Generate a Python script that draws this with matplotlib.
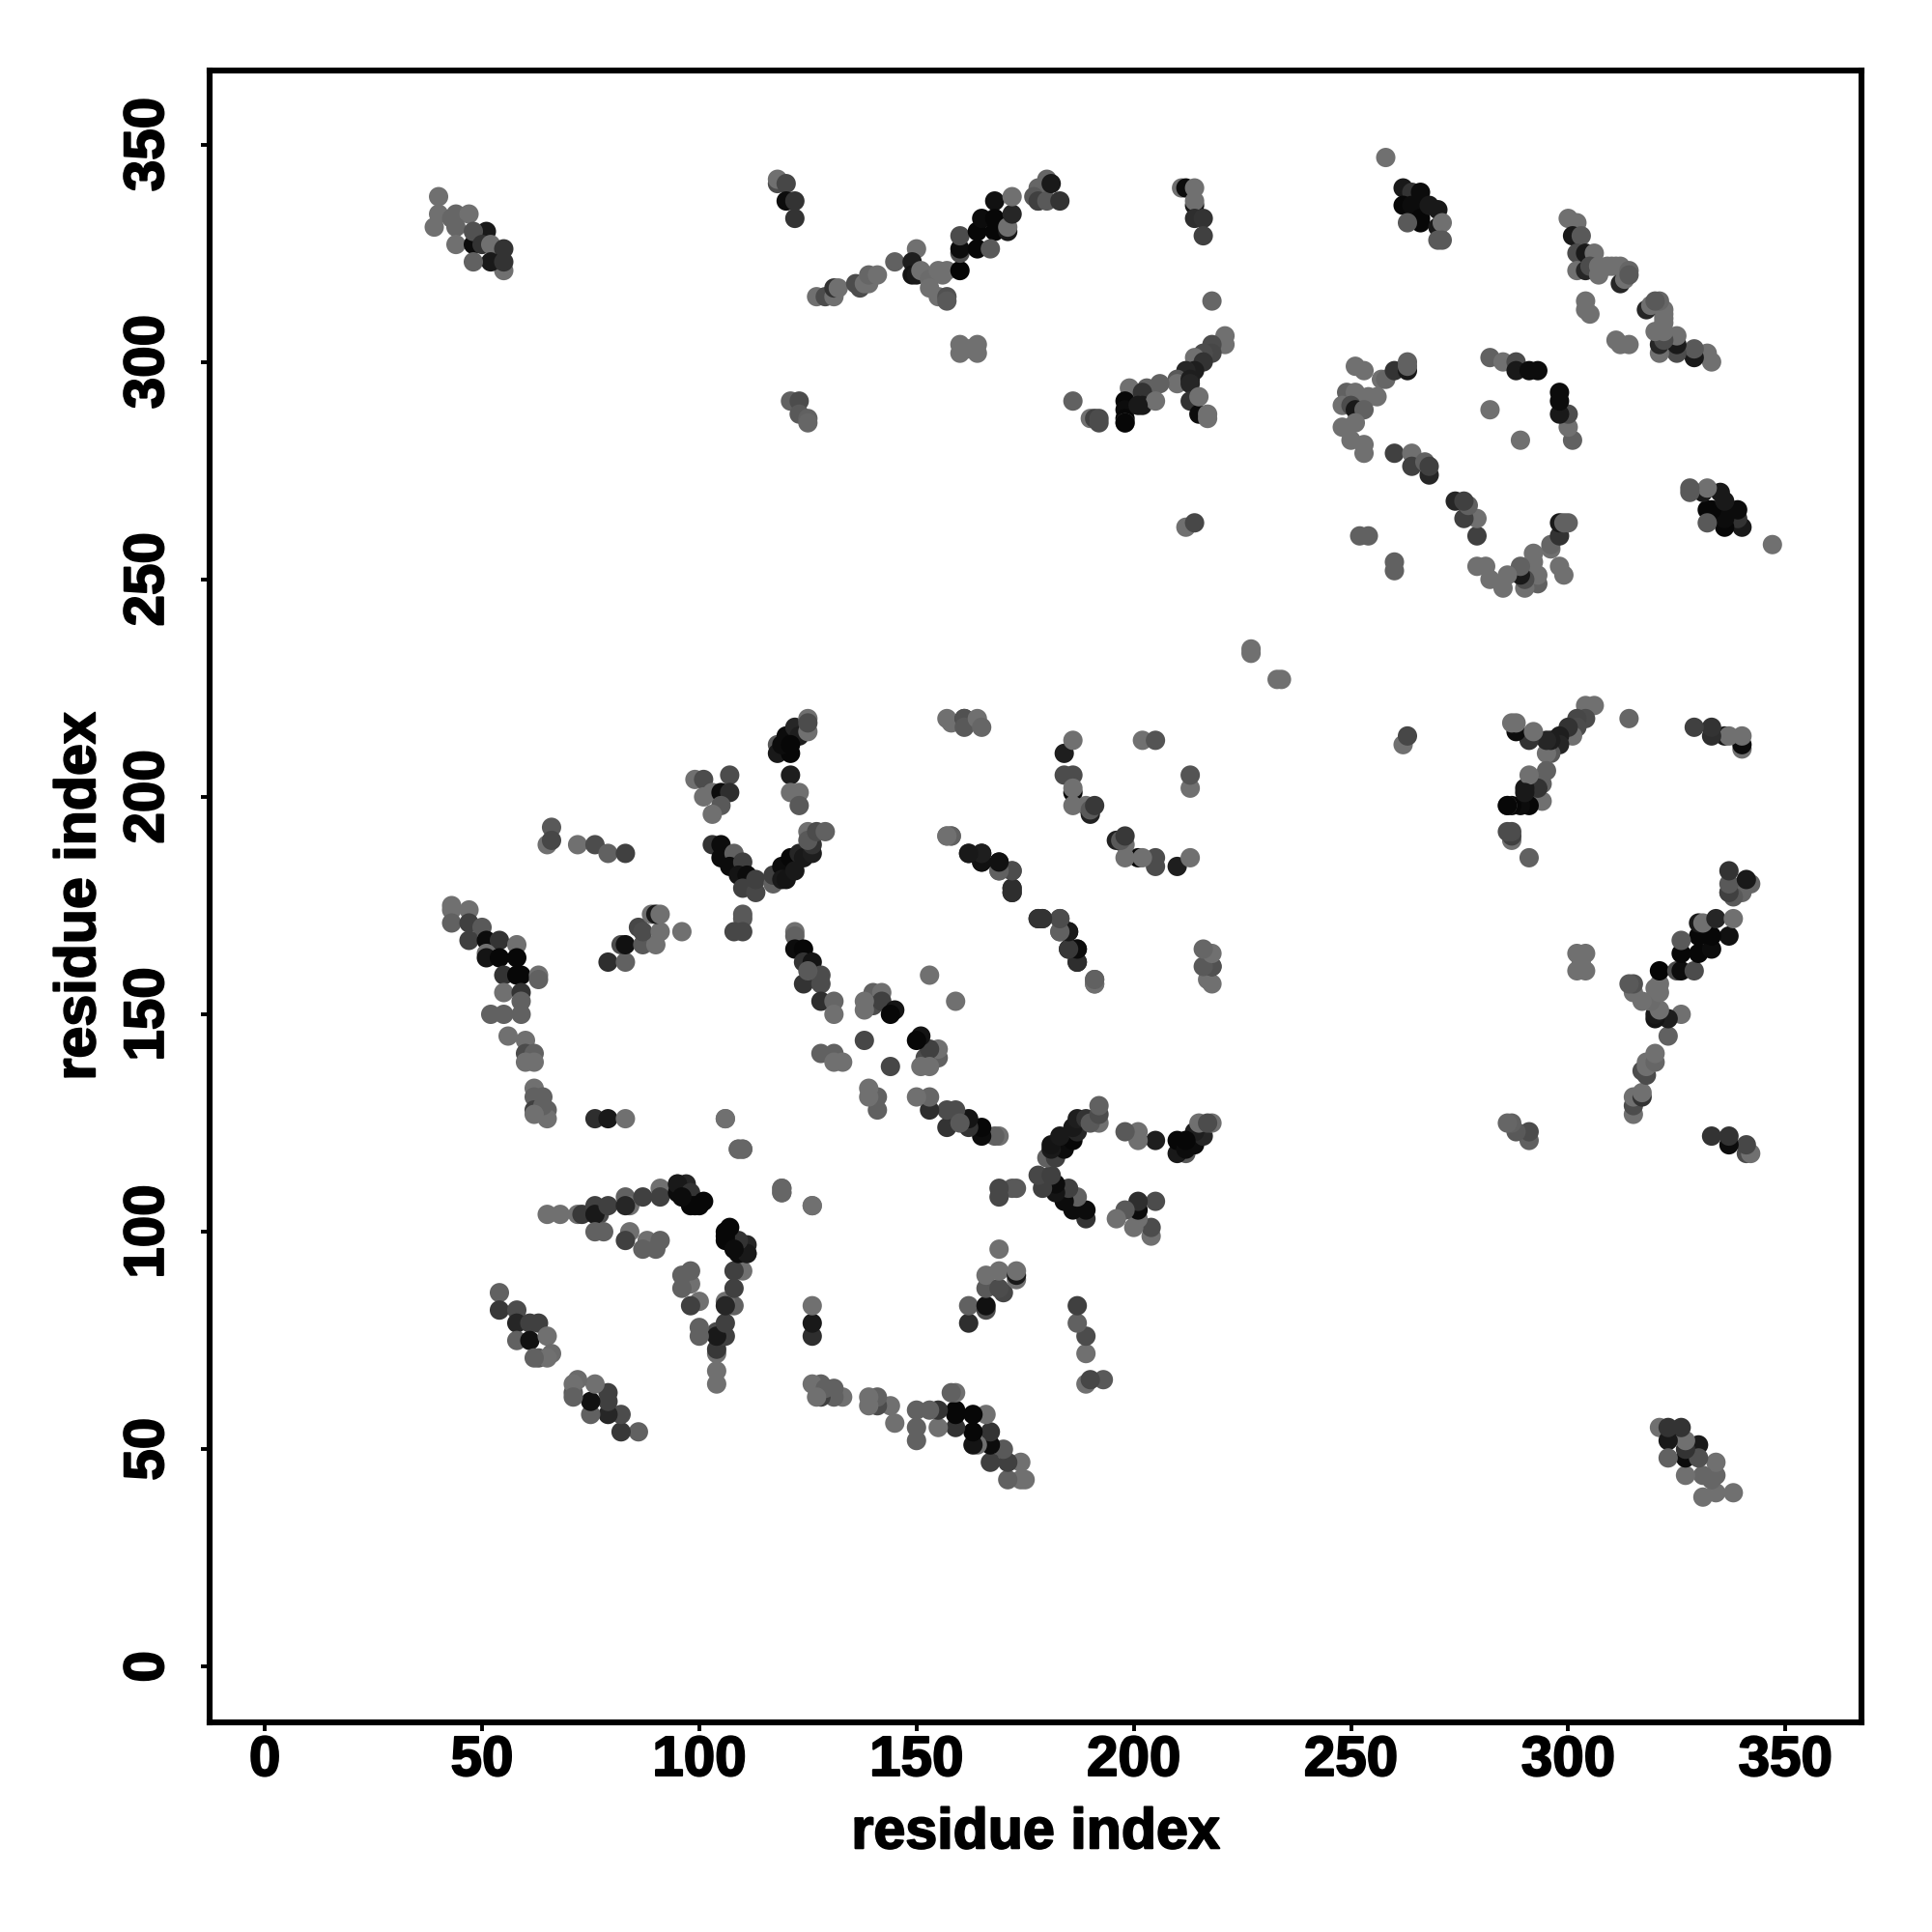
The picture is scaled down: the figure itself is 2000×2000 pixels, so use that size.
import numpy as np
import matplotlib
matplotlib.use('Agg')
import matplotlib.pyplot as plt
import matplotlib.patheffects as pe

# contacts above the diagonal; the map is symmetric
res_i = [
    40, 40, 39, 44, 43, 47, 44, 44, 48, 51, 48, 50, 52, 55, 55, 52, 48, 55,
    118, 118, 120, 120, 122, 122,
    127, 129, 131, 131, 132, 136, 137, 138, 139, 139, 141,
    121, 123, 123, 125, 125,
    145, 150, 149, 149, 150, 151, 153, 153, 155, 155, 156, 157, 157, 157, 160,
    160, 160, 160, 164, 164, 165, 168, 168, 168, 167, 171, 171, 172, 172,
    178, 180, 178, 177, 178, 180, 181, 183,
    211, 212, 214, 214, 214, 214, 216, 216, 218,
    221, 221, 218, 218, 216, 214, 216, 214, 212, 210, 210, 213, 213, 213, 215, 215, 217, 217,
    199, 206, 203, 202, 202, 205, 198, 198, 198, 198, 198, 201,
    186, 190, 191, 192, 192, 160, 164, 160, 164, 162,
    212, 214, 227, 227,
    262, 264, 266, 262, 264, 266, 268, 270, 266, 263, 270, 271, 270, 271,
    300, 302, 301, 303, 302, 304, 306, 302, 304, 305, 307, 307, 309, 310, 311, 312, 312, 313, 314, 314,
    304, 304, 305,
    282, 285, 288, 288, 291, 293, 282,
    251, 253, 257, 258, 260, 263, 263, 263,
    249, 251, 254, 256, 248, 250, 251, 253, 248, 251, 250, 253, 253,
    260, 264, 264, 268, 267, 268, 252, 254, 258,
    43, 43, 47, 43, 47, 50, 47, 51, 54, 58, 51, 51, 54, 58, 55, 59, 58, 63, 63,
    55, 59, 59, 52, 55, 59, 56, 60, 60, 62, 60, 62,
    62, 62, 64, 62, 65, 65, 64, 62, 76, 79, 83, 106, 109, 110,
    65, 68, 72, 73, 76, 77, 76, 79, 83, 84, 83, 87, 91, 91, 95, 95, 97, 95, 98, 98, 99, 101, 100,
    76, 78, 84, 83, 88, 87, 90, 91, 96,
    119, 119, 126,
    54, 54, 58, 58, 61, 63, 58, 61, 65, 63, 66, 65, 62,
    66, 65, 66, 72, 76, 79, 83,
    79, 83, 82, 83, 87, 90, 86, 87, 91, 89, 90, 91, 96,
    99, 101, 107, 101, 103, 105, 107, 105, 103,
    121, 121, 123, 123,
    118, 118, 121, 120, 122, 123, 125, 125, 125, 119, 121,
    103, 105, 105, 108, 107, 110, 109, 111, 110, 113, 113, 117, 117, 119, 119, 120, 121, 122, 123, 124, 126, 126, 125, 125, 127, 129,
    110, 110, 108, 110,
    122, 122, 122, 124, 124, 126, 124, 128, 128, 125, 128, 131, 131,
    157, 158, 161, 161, 161, 164, 165,
    184, 186, 184, 186, 186, 186, 186, 189, 190, 190, 191,
    202, 205,
    157, 158, 162, 165, 165, 169, 169, 172, 172, 172,
    178, 179, 183, 183, 185, 185, 187, 187, 191, 191,
    153, 140, 140, 142, 142, 145, 144, 138, 138,
    138, 128, 131, 131, 133,
]
res_j = [
    338, 334, 331, 334, 333, 334, 331, 327, 327, 330, 330, 327, 327, 321, 326, 323, 323, 323,
    341, 342, 341, 337, 337, 333,
    315, 315, 315, 317, 317, 318, 317, 318, 318, 320, 320,
    291, 291, 288, 287, 286,
    323, 326, 323, 320, 320, 321, 319, 317, 321, 315, 320, 321, 315, 314, 321,
    325, 326, 329, 326, 330, 333, 337, 333, 330, 326, 330, 331, 334, 338,
    340, 342, 337, 338, 337, 337, 341, 337,
    340, 340, 340, 336, 337, 333, 333, 329, 314,
    306, 304, 304, 302, 302, 301, 300, 298, 298, 296, 295, 296, 295, 291, 288, 292, 288, 287,
    294, 295, 294, 293, 290, 291, 291, 289, 287, 286, 286, 290,
    291, 287, 287, 287, 286, 304, 304, 302, 302, 303,
    262, 263, 234, 233,
    340, 339, 339, 336, 336, 333, 336, 335, 332, 332, 331, 332, 328, 328,
    333, 332, 329, 329, 325, 325, 325, 321, 321, 322, 322, 320, 322, 322, 322, 322, 318, 319, 321, 320,
    314, 312, 311,
    301, 300, 300, 298, 298, 298, 289,
    299, 298, 296, 296, 298, 298, 299, 300,
    293, 293, 292, 292, 290, 290, 289, 289, 285, 286, 282, 281, 279,
    279, 279, 276, 274, 277, 276, 260, 260, 347,
    175, 174, 174, 171, 171, 170, 167, 167, 167, 166, 164, 163, 163, 163, 159, 159, 159, 159, 158,
    155, 155, 153, 150, 150, 150, 145, 144, 141, 141, 139, 139,
    133, 131, 131, 128, 128, 126, 129, 127, 126, 126, 126, 126, 119, 119,
    104, 104, 104, 104, 106, 104, 104, 106, 108, 106, 106, 108, 110, 108, 111, 109, 111, 111, 109, 106, 106, 107, 106,
    100, 100, 100, 98, 98, 96, 96, 98, 108,
    110, 109, 106,
    86, 82, 82, 79, 79, 79, 75, 75, 76, 71, 72, 71, 71,
    193, 189, 190, 189, 189, 187, 187,
    162, 162, 166, 166, 166, 166, 170, 169, 169, 173, 173, 173, 169,
    204, 204, 205, 200, 201, 201, 201, 198, 196,
    205, 201, 201, 198,
    212, 210, 210, 214, 216, 214, 215, 218, 217, 212, 212,
    189, 189, 186, 187, 184, 185, 182, 182, 179, 178, 181, 180, 182, 184, 181, 181, 186, 183, 187, 186, 187, 189, 192, 190, 192, 192,
    173, 172, 169, 169,
    169, 168, 165, 165, 162, 162, 157, 159, 157, 160, 153, 153, 150,
    218, 217, 218, 218, 216, 218, 216,
    210, 213, 205, 205, 201, 202, 198, 198, 196, 197, 198,
    213, 213,
    191, 191, 187, 187, 185, 185, 183, 183, 179, 178,
    172, 172, 172, 169, 169, 165, 165, 162, 158, 157,
    159, 155, 152, 155, 153, 151, 150, 153, 151,
    144, 141, 141, 139, 139,
]
contact_shade = [
    .44, .44, .44, .4, .4, .44, .4, .44, .05, .1, .32, .2, .44, .44, .2, .1, .38, .2,
    .3, .44, .28, .05, .2, .2,
    .44, .3, .44, .2, .44, .3, .3, .44, .44, .4, .44,
    .38, .3, .35, .38, .4,
    .38, .44, .12, .08, .1, .44, .42, .44, .44, .44, .44, .44, .32, .35, .02,
    .3, .05, .3, .03, .03, .05, .07, .03, .03, .35, .1, .44, .15, .44,
    .4, .4, .38, .35, .25, .35, .1, .2,
    .44, .05, .44, .1, .44, .18, .2, .25, .4,
    .44, .44, .3, .28, .3, .44, .2, .12, .15, .35, .44, .12, .15, .2, .05, .44, .44, .44,
    .44, .38, .38, .2, .1, .44, .03, .05, .03, .4, .03, .1,
    .38, .44, .25, .3, .3, .44, .44, .44, .44, .44,
    .44, .28, .44, .44,
    .1, .2, .05, .03, .05, .03, .1, .1, .03, .35, .1, .44, .35, .35,
    .44, .44, .1, .35, .3, .1, .44, .44, .15, .3, .44, .44, .44, .44, .44, .44, .15, .44, .4, .35,
    .44, .44, .44,
    .38, .44, .3, .1, .05, .05, .44,
    .44, .44, .44, .4, .2, .1, .38, .38,
    .38, .44, .44, .44, .44, .3, .1, .38, .44, .44, .44, .44, .44,
    .25, .44, .25, .15, .38, .25, .38, .38, .44,
    .44, .44, .44, .38, .25, .35, .25, .05, .2, .44, .44, .08, .03, .03, .2, .03, .03, .44, .38,
    .44, .2, .38, .38, .38, .38, .44, .44, .3, .38, .44, .44,
    .44, .38, .38, .25, .38, .44, .38, .44, .18, .1, .44, .44, .4, .4,
    .44, .44, .44, .22, .25, .3, .1, .25, .38, .44, .15, .25, .44, .25, .35, .05, .15, .1, .2, .03, .03, .03, .03,
    .38, .38, .44, .25, .44, .38, .38, .38, .05,
    .4, .4, .44,
    .38, .22, .3, .15, .25, .25, .38, .07, .44, .35, .42, .44, .38,
    .35, .44, .28, .44, .3, .38, .25,
    .18, .38, .3, .07, .35, .44, .28, .3, .44, .44, .1, .44, .44,
    .44, .3, .3, .44, .44, .05, .18, .35, .44,
    .12, .44, .44, .35,
    .35, .1, .03, .05, .15, .12, .44, .44, .3, .05, .03,
    .2, .05, .05, .38, .05, .25, .08, .05, .25, .28, .25, .38, .25, .05, .1, .08, .03, .1, .15, .1, .12, .2, .44, .35, .3, .38,
    .35, .35, .28, .28,
    .44, .38, .05, .03, .2, .08, .2, .3, .3, .35, .18, .4, .44,
    .44, .44, .2, .32, .35, .44, .4,
    .12, .44, .3, .3, .03, .44, .44, .44, .13, .35, .22,
    .44, .33,
    .44, .38, .18, .05, .22, .1, .38, .3, .2, .2,
    .18, .18, .3, .38, .07, .07, .12, .1, .38, .44,
    .44, .38, .3, .44, .25, .08, .03, .44, .44,
    .28, .38, .38, .44, .44,
]

tick_vals = [0, 50, 100, 150, 200, 250, 300, 350]

plt.rcParams['font.family'] = ['Liberation Sans', 'DejaVu Sans']
plt.rcParams['font.weight'] = 'bold'

i = np.array(res_i)
j = np.array(res_j)
shade = np.array(contact_shade)

fig = plt.figure(figsize=(10, 10), dpi=200)
ax = fig.add_axes([217 / 2000, 1 - 1783 / 2000, 1710 / 2000, 1710 / 2000])
ax.scatter(np.r_[i, j], np.r_[j, i], c=np.r_[shade, shade], cmap='gray', vmin=0, vmax=1,
           s=52, linewidths=0)

ax.set_xlim(-12.7, 367.5)
ax.set_ylim(-12.8, 367)
ax.set_xticks(tick_vals)
ax.set_yticks(tick_vals)
ax.tick_params(axis='both', length=3.3, width=1.4, labelsize=21)
ax.tick_params(axis='x', pad=1.4)
ax.tick_params(axis='y', pad=9.7, labelrotation=90)
for lab in ax.get_yticklabels():
    lab.set_va('center')
for sp in ax.spines.values():
    sp.set_linewidth(2.2)
ax.set_xlabel('residue index', fontsize=21.3, fontweight='bold', labelpad=7.3)
ax.set_ylabel('residue index', fontsize=21.3, fontweight='bold', labelpad=6)

# reference type is heavier than Liberation bold
heavy = [pe.withStroke(linewidth=0.7, foreground='black')]
for lab in ax.get_xticklabels() + ax.get_yticklabels() + [ax.xaxis.label, ax.yaxis.label]:
    lab.set_path_effects(heavy)

fig.savefig('out.png', dpi=200)
